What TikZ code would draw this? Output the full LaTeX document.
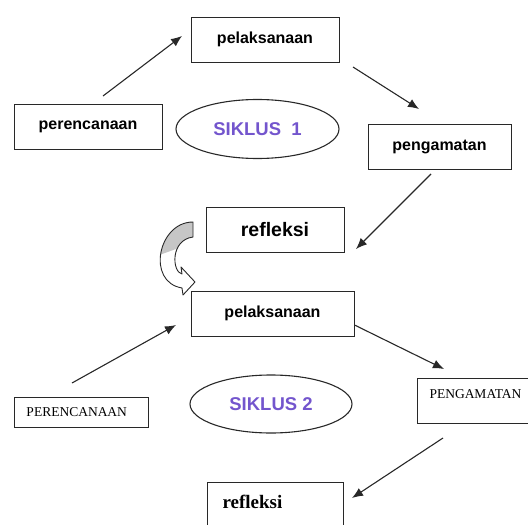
\documentclass[tikz,border=0pt]{standalone}
\usepackage{fontspec}
\usepackage{tikz}
\usetikzlibrary{positioning}
\usetikzlibrary{arrows.meta}
\usetikzlibrary{shapes.geometric}
\newfontfamily\arialfont{Liberation Sans}
\newfontfamily\timesfont{Liberation Serif}
\definecolor{ungu}{RGB}{115,85,205}
\definecolor{garis}{RGB}{40,40,40}

\begin{document}
\begin{tikzpicture}[x=1pt,y=-1pt,
    kotak/.style={draw=garis, line width=1pt, rectangle, inner sep=0pt},
    teks/.style={font=\arialfont\bfseries\fontsize{16}{18}\selectfont},
    oval/.style={draw=garis, line width=1.1pt, ellipse, inner sep=0pt,
      minimum width=163pt, minimum height=59pt, text=ungu,
      font=\arialfont\bfseries\fontsize{18.5}{20}\selectfont},
    panah/.style={draw=garis, line width=1.1pt, -{Latex[length=11pt,width=9pt]}}]
    \useasboundingbox (0,0) rectangle (528,525);
    \clip (0,0) rectangle (528,525);
    % siklus 1
    \node[kotak, teks, minimum width=148pt, minimum height=45pt] (pel1) at (265,39.5) {pelaksanaan};
    \node[kotak, teks, minimum width=148pt, minimum height=45pt] (per1) at (88,126.5) {perencanaan};
    \node[oval] (sik1) at (257.5,129) {SIKLUS\ \ 1};
    \node[kotak, teks, minimum width=143pt, minimum height=45pt] (pen1) at (439.5,146.5) {pengamatan};
    \node[kotak, font=\arialfont\bfseries\fontsize{19.5}{21}\selectfont,
      minimum width=138pt, minimum height=45pt] (ref1) at (275,229.5) {refleksi};
    % siklus 2
    \node[kotak, teks, minimum width=163pt, minimum height=45pt] (pel2) at (272.5,313.5) {pelaksanaan};
    \node[kotak, anchor=north west, font=\timesfont\fontsize{13.5}{15}\selectfont,
      align=left, text width=110pt, inner xsep=12pt, inner ysep=0pt,
      text height=19pt, text depth=11pt] (per2) at (14,397) {PERENCANAAN};
    \node[oval, minimum width=162pt, minimum height=58pt] (sik2) at (271,404) {SIKLUS 2};
    \node[kotak, anchor=north west, font=\timesfont\fontsize{13.5}{15}\selectfont,
      align=left, text width=100pt, inner xsep=12pt, inner ysep=3pt,
      text height=16.5pt, text depth=22.5pt] (pen2) at (417,378) {PENGAMATAN};
    \node[kotak, anchor=north west, font=\timesfont\bfseries\fontsize{19}{21}\selectfont,
      align=left, text width=106pt, inner xsep=15pt, inner ysep=3pt,
      text height=23pt, text depth=30pt] (ref2) at (207,482) {refleksi};

    % ujung panah
    \coordinate (a1) at (103,96);   \coordinate (b1) at (182,36);
    \coordinate (a2) at (353,67);   \coordinate (b2) at (419,109);
    \coordinate (a3) at (431,174);  \coordinate (b3) at (356,249);
    \coordinate (a4) at (72,383);   \coordinate (b4) at (176,325);
    \coordinate (a5) at (pel2.east |- 0,325); \coordinate (b5) at (444,369);
    \coordinate (a6) at (443,438);  \coordinate (b6) at (352,498);
    \draw[panah] (a1) -- (b1);
    \draw[panah] (a2) -- (b2);
    \draw[panah] (a3) -- (b3);
    \draw[panah] (a4) -- (b4);
    \draw[panah] (a5) -- (b5);
    \draw[panah] (a6) -- (b6);

    % panah lengkung
    \begin{scope}
      \clip (193,222) .. controls (158,222) and (146,282) .. (182,288) -- (183,295) -- (195,282)
        -- (181,267) -- (182,274) .. controls (172,272) and (170,240) .. (193,237) -- cycle;
      \fill[gray!45] (140,215) -- (200,215) -- (200,240) -- (176,249) -- (140,262) -- cycle;
    \end{scope}
    \draw[garis, line width=0.9pt, line join=round] (193,222) .. controls (158,222) and (146,282) .. (182,288)
      -- (183,295) -- (195,282) -- (181,267) -- (182,274) .. controls (172,272) and (170,240) .. (193,237) -- cycle;
\end{tikzpicture}
\end{document}
